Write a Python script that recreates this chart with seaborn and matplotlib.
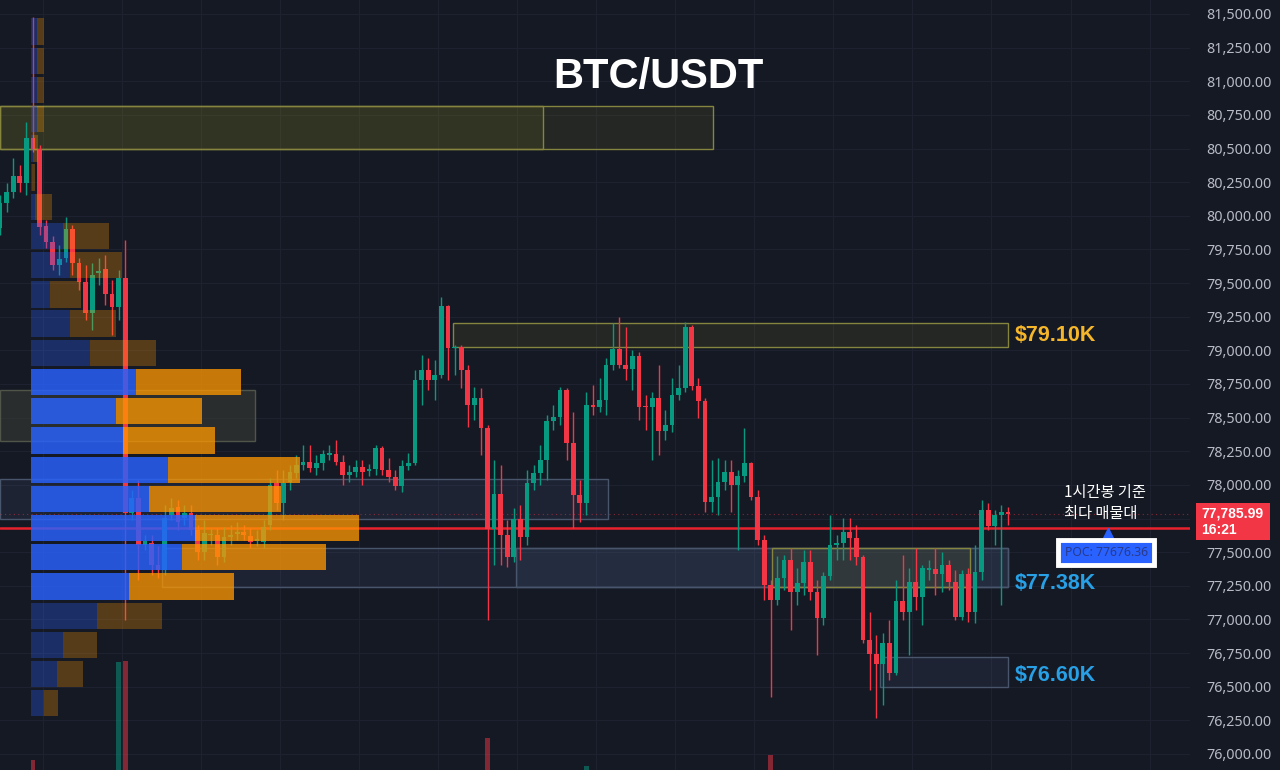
import numpy as np
import pandas as pd
import matplotlib
matplotlib.use('Agg')
import matplotlib.pyplot as plt
from matplotlib.colors import to_rgba
from matplotlib.patches import Rectangle
from matplotlib.ticker import MultipleLocator, FuncFormatter
import seaborn as sns

# 1h candles, BTC/USDT
opens = [79909, 80095, 80177, 80296, 80244, 80578, 80497, 79924, 79805, 79635,
         79687, 79902, 79649, 79508, 79278, 79575, 79605, 79419, 79322, 79538,
         77791, 77903, 77554, 77568, 77405, 77368, 77777, 77836, 77754, 77791,
         77665, 77502, 77628, 77628, 77464, 77613, 77635, 77650, 77620, 77583,
         77576, 77702, 78014, 77866, 78022, 78089, 78148, 78170, 78126, 78163,
         78222, 78230, 78170, 78074, 78096, 78133, 78104, 78118, 78274, 78111,
         78059, 77992, 78141, 78163, 78780, 78854, 78780, 78817, 79330, 79018,
         79025, 78854, 78594, 78646, 78423, 77672, 77933, 77628, 77464, 77747,
         77613, 78014, 78089, 78185, 78475, 78505, 78706, 78312, 77925, 77866,
         78594, 78579, 78631, 78891, 79010, 78891, 78862, 78958, 78587, 78579,
         78646, 78401, 78445, 78668, 78720, 79174, 78735, 78624, 77873, 77910,
         78022, 78096, 77999, 78066, 78163, 77910, 77591, 77256, 77145, 77308,
         77442, 77204, 77271, 77427, 77204, 77011, 77323, 77554, 77568, 77650,
         77606, 77464, 76848, 76743, 76669, 76825, 76602, 77137, 77056, 77279,
         77167, 77368, 77375, 77338, 77405, 77279, 77018, 77338, 77056, 77353,
         77814, 77695, 77777, 77799]
closes = [80095, 80177, 80296, 80244, 80578, 80497, 79917, 79805, 79635, 79679,
          79902, 79649, 79508, 79278, 79560, 79590, 79419, 79322, 79538, 77791,
          77903, 77554, 77583, 77405, 77368, 77754, 77829, 77725, 77791, 77665,
          77502, 77643, 77635, 77464, 77613, 77628, 77650, 77628, 77576, 77598,
          77687, 77999, 77866, 78014, 78096, 78148, 78170, 78126, 78163, 78230,
          78237, 78170, 78074, 78096, 78133, 78096, 78118, 78274, 78111, 78059,
          77992, 78141, 78163, 78780, 78854, 78780, 78817, 79330, 79018, 79025,
          78854, 78594, 78646, 78423, 77672, 77933, 77628, 77464, 77747, 77613,
          78014, 78089, 78185, 78475, 78505, 78706, 78312, 77925, 77866, 78594,
          78579, 78631, 78891, 79010, 78891, 78862, 78958, 78579, 78579, 78646,
          78401, 78445, 78668, 78720, 79174, 78735, 78624, 77873, 77910, 78022,
          78096, 77999, 78066, 78163, 77910, 77591, 77256, 77145, 77308, 77442,
          77204, 77271, 77427, 77204, 77011, 77323, 77554, 77568, 77650, 77606,
          77464, 76848, 76743, 76669, 76825, 76602, 77137, 77056, 77279, 77167,
          77383, 77383, 77338, 77405, 77279, 77018, 77338, 77056, 77353, 77814,
          77695, 77777, 77799, 77786]
highs = [80155, 80244, 80430, 80378, 80697, 81478, 80526, 79969, 79850, 79783,
         79991, 79932, 79687, 79635, 79649, 79687, 79709, 79523, 79597, 79820,
         77962, 78037, 77628, 77628, 77546, 77851, 77903, 77888, 77851, 77851,
         77702, 77739, 77680, 77680, 77687, 77702, 77725, 77702, 77680, 77665,
         77739, 78052, 78111, 78111, 78148, 78222, 78297, 78297, 78222, 78260,
         78297, 78334, 78222, 78148, 78185, 78185, 78156, 78297, 78289, 78200,
         78111, 78185, 78237, 78854, 78966, 78943, 78928, 79397, 79337, 79040,
         79040, 78891, 78728, 78720, 78445, 78185, 78148, 77739, 77829, 77851,
         78111, 78148, 78297, 78520, 78594, 78728, 78720, 78542, 78037, 78691,
         78743, 78795, 78943, 79203, 79248, 79174, 79003, 78988, 78668, 78691,
         78891, 78557, 78795, 78891, 79211, 79189, 78795, 78646, 78185, 78200,
         78185, 78185, 78111, 78423, 78170, 77962, 77628, 77293, 77472, 77479,
         77531, 77383, 77516, 77516, 77293, 77353, 77777, 77628, 77754, 77754,
         77702, 77479, 77056, 76885, 76900, 76996, 77293, 77479, 77383, 77531,
         77405, 77442, 77531, 77502, 77442, 77368, 77368, 77383, 77554, 77888,
         77866, 77814, 77851, 77836]
lows = [79858, 80028, 80133, 80177, 80155, 80474, 79858, 79761, 79597, 79560,
        79657, 79560, 79449, 79226, 79151, 79486, 79337, 79114, 79226, 76996,
        77739, 77293, 77516, 77331, 77308, 77331, 77739, 77665, 77702, 77628,
        77442, 77442, 77554, 77405, 77427, 77554, 77591, 77591, 77531, 77546,
        77531, 77665, 77814, 77739, 77962, 78052, 78111, 78096, 78074, 78111,
        78185, 78148, 77999, 78022, 78059, 77999, 78066, 78074, 78074, 78022,
        77962, 77947, 78111, 78148, 78594, 78706, 78631, 78795, 78780, 78817,
        78720, 78431, 78483, 78222, 76996, 77405, 77405, 77390, 77427, 77442,
        77554, 77962, 77999, 78037, 78408, 78445, 78185, 77680, 77725, 77777,
        78520, 78542, 78520, 78854, 78869, 78780, 78706, 78483, 78408, 78185,
        78222, 78334, 78393, 78631, 78691, 78706, 78497, 77799, 77799, 77777,
        77962, 77799, 77516, 78022, 77888, 77554, 77145, 76424, 77108, 77219,
        76922, 77108, 77182, 77145, 76736, 76959, 77293, 77442, 77442, 77442,
        77405, 76825, 76476, 76268, 76364, 76550, 76587, 76996, 76736, 77070,
        76959, 77293, 77182, 77204, 77219, 76996, 76996, 76981, 76974, 77293,
        77665, 77554, 77108, 77702]

# visible volume spikes at the bottom (candle index, BTC)
vol_idx = [5, 18, 19, 74, 89, 117]
vol_btc = [1900, 4840, 4870, 2560, 1720, 2050]

# volume profile (24 rows, bottom -> top), up / down volume
prof_lo, prof_hi = 76268, 81478
up_vol = [130, 260, 320, 660, 980, 1510, 1640, 1180, 1370, 920, 850, 1050,
          590, 390, 190, 390, 320, 40, 10, 20, 60, 60, 60, 60]
dn_vol = [140, 260, 340, 650, 1050, 1440, 1640, 1320, 1320, 920, 860, 1050,
          660, 460, 310, 520, 460, 170, 30, 50, 70, 70, 70, 70]
value_area = range(4, 12)
poc = 77676.36
last_price = 77785.99
last_time = '16:21'

# zones: start/end candle, low/high price, kind
zone_x0 = [0, 0, 0, 0, 24.6, 78.3, 68.8, 117.2, 133.6]
zone_x1 = [108.2, 82.4, 38.7, 92.3, 153, 153, 153, 147.2, 153]
zone_lo = [80497, 80497, 78326, 77747, 77241, 77241, 79025, 77241, 76498]
zone_hi = [80816, 80816, 78706, 78044, 77531, 77531, 79203, 77531, 76721]
zone_kind = ['yellow', 'yellow', 'gray', 'blue', 'blue', 'blue', 'yellow', 'yellow', 'blue']

level_labels = ['$79.10K', '$77.38K', '$76.60K']
level_prices = [79114, 77264, 76580]
level_colors = ['#f5b62a', '#27a0e6', '#27a0e6']

BG = '#151924'
GREEN = '#089981'
RED = '#f23645'
BOLD_FONT = ['Liberation Sans', 'DejaVu Sans']

sns.set_theme(style='dark', rc={'axes.facecolor': BG, 'figure.facecolor': BG})
plt.rcParams['font.family'] = ['Noto Sans', 'Noto Sans CJK KR', 'DejaVu Sans']

df = pd.DataFrame({'open': opens, 'high': highs, 'low': lows, 'close': closes})
df['idx'] = np.arange(len(df))
df['up'] = df['close'] >= df['open']

px_per_bar = 6.588
fig = plt.figure(figsize=(12.8, 7.7), dpi=100)
ax = fig.add_axes([0, 0, 1190 / 1280, 1])
ax.set_xlim(0, 1190 / px_per_bar)
ax.set_ylim(75881, 81604)

# zones
zone_style = {
    'yellow': dict(fc=to_rgba('#8c8c1e', 0.13), ec='#85853f'),
    'gray': dict(fc=to_rgba('#3c3f36', 0.55), ec='#50554a'),
    'blue': dict(fc=to_rgba('#5a6e99', 0.13), ec='#48556b'),
}
for x0, x1, lo, hi, k in zip(zone_x0, zone_x1, zone_lo, zone_hi, zone_kind):
    ax.add_patch(Rectangle((x0, lo), x1 - x0, hi - lo, lw=1, zorder=1, **zone_style[k]))

# POC line + last price line
ax.axhline(poc, color='#e8222c', lw=1.8, zorder=2.5)
ax.axhline(last_price, color=RED, lw=0.8, ls=(0, (1, 3)), alpha=0.5, zorder=2)

# candles
colors = np.where(df['up'], GREEN, RED)
ax.vlines(df['idx'], df['low'], df['high'], colors=colors, lw=1, zorder=3)
body = np.maximum((df['close'] - df['open']).abs(), 7)
ax.bar(df['idx'], body, bottom=np.minimum(df['open'], df['close']),
       width=0.72, color=colors, linewidth=0, zorder=3)

# volume profile
edges = np.linspace(prof_lo, prof_hi, len(up_vol) + 1)
centers = (edges[:-1] + edges[1:]) / 2
row_h = (edges[1] - edges[0]) * 0.9
prof_left = 31 / px_per_bar
sc = 1 / (10 * px_per_bar)
up_w = np.array(up_vol) * sc
dn_w = np.array(dn_vol) * sc
blue_c = [to_rgba('#2962ff', 0.82 if i in value_area else 0.3) for i in range(len(up_vol))]
orng_c = [to_rgba('#ff9800', 0.76 if i in value_area else 0.28) for i in range(len(up_vol))]
ax.barh(centers, up_w, left=prof_left, height=row_h, color=blue_c, linewidth=0, zorder=4)
ax.barh(centers, dn_w, left=prof_left + up_w, height=row_h, color=orng_c, linewidth=0, zorder=4)

# volume bars
axv = ax.twinx()
axv.set_ylim(1600, 24700)
vcol = [GREEN if df['up'][i] else RED for i in vol_idx]
axv.bar(vol_idx, vol_btc, width=0.72, color=vcol, alpha=0.5, linewidth=0)
axv.set_yticks([])
axv.grid(False)
for s in axv.spines.values():
    s.set_visible(False)


# price scale labels; the one under the last-price tag is hidden like on the chart
def price_fmt(v, pos):
    if abs(v - last_price) < 120:
        return ''
    return f'{v:,.2f}'


ax.yaxis.tick_right()
ax.yaxis.set_major_locator(MultipleLocator(250))
ax.yaxis.set_major_formatter(FuncFormatter(price_fmt))
ax.xaxis.set_major_locator(MultipleLocator(12, offset=6.5))
ax.tick_params(axis='x', labelbottom=False, length=0)
ax.tick_params(axis='y', which='both', left=False, labelleft=False, right=False,
               labelright=True, length=0, pad=12, labelcolor='#b8bbc4', labelsize=10.3)
ax.grid(True, color='#1e2230', lw=0.8)
ax.set_axisbelow(True)
for s in ax.spines.values():
    s.set_visible(False)

# texts
ax.text(0.553, 0.9, 'BTC/USDT', transform=ax.transAxes, ha='center', va='center',
        fontsize=30, fontweight='bold', color='white', family=BOLD_FONT, zorder=6)
for lab, p, c in zip(level_labels, level_prices, level_colors):
    ax.text(1015 / px_per_bar, p, lab, ha='left', va='center', fontsize=15.5,
            fontweight='bold', color=c, family=BOLD_FONT, zorder=6)
ax.text(1064 / px_per_bar, 77866, '1시간봉 기준\n최다 매물대', ha='left', va='center',
        fontsize=11, color='white', linespacing=1.3,
        family=['Noto Sans CJK KR', 'DejaVu Sans'], zorder=6)
ax.plot([168.2], [77640], marker='^', ms=7, color='#2962ff', zorder=6, clip_on=False)
ax.text(167.9, 77497, 'POC: 77676.36', ha='center', va='center', fontsize=8.8,
        color='#283a8c', zorder=7,
        bbox=dict(boxstyle='square,pad=0.5', fc='#2962ff', ec='white', lw=3.5))

# last price tag on the scale
fig.patches.append(Rectangle((1196 / 1280, 1 - 540 / 770), 74 / 1280, 37 / 770,
                             transform=fig.transFigure, fc=RED, ec='none', zorder=10))
fig.text(1201 / 1280, 1 - 513 / 770, f'{last_price:,.2f}', ha='left', va='center',
         fontsize=10, fontweight='bold', color='white', family=BOLD_FONT, zorder=11)
fig.text(1201 / 1280, 1 - 530 / 770, last_time, ha='left', va='center',
         fontsize=10, fontweight='bold', color='white', family=BOLD_FONT, zorder=11)

fig.savefig('out.png', dpi=100, facecolor=BG)
